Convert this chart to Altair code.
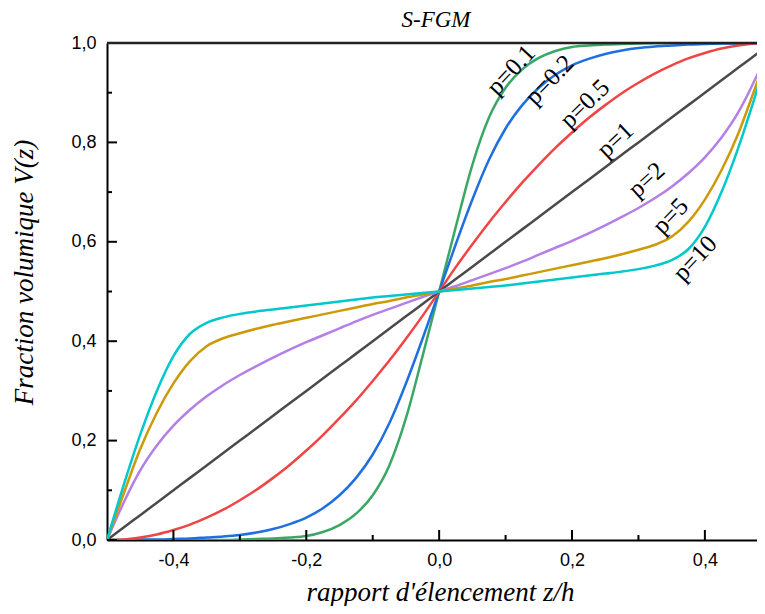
import altair as alt
import pandas as pd

# z/h sample positions
Z = [-0.5, -0.475, -0.45, -0.425, -0.4, -0.375, -0.35, -0.325, -0.3, -0.275,
     -0.25, -0.225, -0.2, -0.175, -0.15, -0.125, -0.1, -0.075, -0.05, -0.025,
     0.0, 0.025, 0.05, 0.075, 0.1, 0.125, 0.15, 0.175, 0.2, 0.225,
     0.25, 0.275, 0.3, 0.325, 0.35, 0.375, 0.4, 0.425, 0.45, 0.475, 0.5]

V_P01 = [0, 0, 0, 0, 0, 0, 0, 0, 0.001, 0.002,
         0.003, 0.005, 0.008, 0.016, 0.03, 0.053, 0.09, 0.15, 0.245, 0.37,
         0.5, 0.63, 0.755, 0.85, 0.91, 0.947, 0.97, 0.984, 0.992, 0.995,
         0.997, 0.998, 0.999, 1, 1, 1, 1, 1, 1, 1, 1]
V_P02 = [0, 0, 0.001, 0.001, 0.002, 0.003, 0.005, 0.007, 0.01, 0.015,
         0.022, 0.032, 0.045, 0.064, 0.09, 0.125, 0.172, 0.235, 0.315, 0.405,
         0.5, 0.595, 0.685, 0.765, 0.828, 0.875, 0.91, 0.936, 0.955, 0.968,
         0.978, 0.985, 0.99, 0.993, 0.995, 0.997, 0.998, 0.999, 0.999, 1, 1]
V_P05 = [0, 0.001, 0.005, 0.011, 0.02, 0.031, 0.045, 0.061, 0.08, 0.101,
         0.125, 0.151, 0.18, 0.211, 0.245, 0.281, 0.32, 0.361, 0.405, 0.451,
         0.5, 0.549, 0.595, 0.639, 0.68, 0.719, 0.755, 0.789, 0.82, 0.849,
         0.875, 0.899, 0.92, 0.939, 0.955, 0.969, 0.98, 0.989, 0.995, 0.999, 1]
V_P1 = [0, 0.025, 0.05, 0.075, 0.1, 0.125, 0.15, 0.175, 0.2, 0.225,
        0.25, 0.275, 0.3, 0.325, 0.35, 0.375, 0.4, 0.425, 0.45, 0.475,
        0.5, 0.525, 0.55, 0.575, 0.6, 0.625, 0.65, 0.675, 0.7, 0.725,
        0.75, 0.775, 0.8, 0.825, 0.85, 0.875, 0.9, 0.925, 0.95, 0.975, 1]
V_P2 = [0, 0.075, 0.14, 0.19, 0.23, 0.262, 0.289, 0.312, 0.332, 0.35,
        0.367, 0.383, 0.398, 0.412, 0.426, 0.44, 0.453, 0.465, 0.477, 0.489,
        0.5, 0.511, 0.523, 0.535, 0.547, 0.56, 0.574, 0.588, 0.602, 0.617,
        0.633, 0.65, 0.668, 0.688, 0.711, 0.738, 0.77, 0.81, 0.86, 0.925, 1]
V_P5 = [0, 0.093, 0.183, 0.256, 0.315, 0.36, 0.39, 0.406, 0.416, 0.425,
        0.433, 0.44, 0.447, 0.454, 0.461, 0.468, 0.475, 0.481, 0.488, 0.494,
        0.5, 0.506, 0.512, 0.519, 0.525, 0.532, 0.539, 0.546, 0.553, 0.56,
        0.567, 0.575, 0.584, 0.594, 0.61, 0.64, 0.685, 0.744, 0.817, 0.907, 1]
V_P10 = [0, 0.11, 0.212, 0.3, 0.37, 0.415, 0.437, 0.448, 0.455, 0.46,
         0.464, 0.468, 0.472, 0.476, 0.48, 0.484, 0.488, 0.491, 0.494, 0.497,
         0.5, 0.503, 0.506, 0.509, 0.512, 0.516, 0.52, 0.524, 0.528, 0.532,
         0.536, 0.54, 0.545, 0.552, 0.563, 0.585, 0.63, 0.7, 0.788, 0.89, 1]

SERIES = ["p=0.1", "p=0.2", "p=0.5", "p=1", "p=2", "p=5", "p=10"]
VALUES = [V_P01, V_P02, V_P05, V_P1, V_P2, V_P5, V_P10]
COLORS = ["#3aa864", "#1f6fe0", "#f04545", "#4a4a4a", "#b47fe6", "#cc9a06", "#00c8cc"]

LABEL_Z = [0.108, 0.166, 0.219, 0.265, 0.312, 0.348, 0.385]
LABEL_V = [0.946, 0.926, 0.878, 0.805, 0.725, 0.652, 0.567]
LABEL_ANGLE = [313, 314, 316, 317, 318, 314, 313]

X_MAJOR = [-0.4, -0.2, 0.0, 0.2, 0.4]
X_MINOR = [-0.3, -0.1, 0.1, 0.3]
Y_MAJOR = [0.0, 0.2, 0.4, 0.6, 0.8, 1.0]
Y_MINOR = [0.1, 0.3, 0.5, 0.7, 0.9]

TITLE = "S-FGM"
X_TITLE = "rapport d'élencement z/h"
Y_TITLE = "Fraction volumique V(z)"

SERIF = "Liberation Serif, Times New Roman, Times, serif"
SANS = "Liberation Sans, Arial, sans-serif"

X_MAX = 0.4905
W, H = 658, 497

rows = []
for s, vals in zip(SERIES, VALUES):
    for z, v in zip(Z, vals):
        rows.append({"z": z, "V": v, "series": s})
df = pd.DataFrame(rows)
labels_df = pd.DataFrame({"z": LABEL_Z, "V": LABEL_V, "label": SERIES, "ang": LABEL_ANGLE})

label_expr = "replace(replace(format(datum.value, '.1f'), '.', ','), '\u2212', '-')"

xscale = alt.Scale(domain=[-0.5, X_MAX], nice=False, zero=False)
yscale = alt.Scale(domain=[0, 1], nice=False, zero=False)

X_AXIS = alt.Axis(
    values=X_MAJOR, labelExpr=label_expr, ticks=False, grid=False,
    domainColor="black", domainWidth=2,
    labelFont=SANS, labelFontSize=18, labelColor="black", labelPadding=11,
    title=X_TITLE, titleFont=SERIF, titleFontStyle="italic",
    titleFontWeight="normal", titleFontSize=27, titleColor="black",
    titleX=333, titleY=60, titleBaseline="alphabetic")
Y_AXIS = alt.Axis(
    values=Y_MAJOR, labelExpr=label_expr, ticks=False, grid=False,
    domainColor="black", domainWidth=2,
    labelFont=SANS, labelFontSize=18, labelColor="black", labelPadding=11,
    title=Y_TITLE, titleFont=SERIF, titleFontStyle="italic",
    titleFontWeight="normal", titleFontSize=27, titleColor="black",
    titleX=-83, titleY=229, titleBaseline="middle")


def xenc():
    return alt.X("z:Q", scale=xscale, axis=X_AXIS)


def yenc():
    return alt.Y("V:Q", scale=yscale, axis=Y_AXIS)


lines = alt.Chart(df).mark_line(strokeWidth=2.5, clip=True, interpolate="monotone").encode(
    x=xenc(), y=yenc(),
    color=alt.Color("series:N", scale=alt.Scale(domain=SERIES, range=COLORS), legend=None),
)

xt_major = alt.Chart(pd.DataFrame({"z": X_MAJOR})).mark_rule(color="black", strokeWidth=2).encode(
    x=xenc(), y=alt.value(H), y2=alt.value(H - 10))
xt_minor = alt.Chart(pd.DataFrame({"z": X_MINOR})).mark_rule(color="black", strokeWidth=2).encode(
    x=xenc(), y=alt.value(H), y2=alt.value(H - 5))
yt_major = alt.Chart(pd.DataFrame({"V": Y_MAJOR})).mark_rule(color="black", strokeWidth=2).encode(
    y=yenc(), x=alt.value(0), x2=alt.value(10))
yt_minor = alt.Chart(pd.DataFrame({"V": Y_MINOR})).mark_rule(color="black", strokeWidth=2).encode(
    y=yenc(), x=alt.value(0), x2=alt.value(5))
top = alt.Chart(pd.DataFrame({"V": [1.0]})).mark_rule(color="#222222", strokeWidth=2.5).encode(
    y=yenc(), x=alt.value(0), x2=alt.value(W))

texts = alt.Chart(labels_df).mark_text(
    font=SERIF, fontSize=25, color="black", align="center", baseline="middle"
).encode(
    x=xenc(), y=yenc(),
    text="label:N",
    angle=alt.Angle("ang:Q", scale=None),
)

title = alt.Chart(pd.DataFrame({"t": [TITLE]})).mark_text(
    font=SERIF, fontStyle="italic", fontSize=23, color="black",
    align="center", baseline="alphabetic"
).encode(text="t:N", x=alt.value(W / 2), y=alt.value(-16))

chart = alt.layer(lines, xt_major, xt_minor, yt_major, yt_minor, top, texts, title).properties(
    width=W, height=H,
    autosize=alt.AutoSizeParams(type="none"),
    padding={"left": 99, "top": 35, "right": -8, "bottom": 66},
).configure_view(stroke=None)

chart.save("out.html", embed_options={"renderer": "svg", "actions": False})
